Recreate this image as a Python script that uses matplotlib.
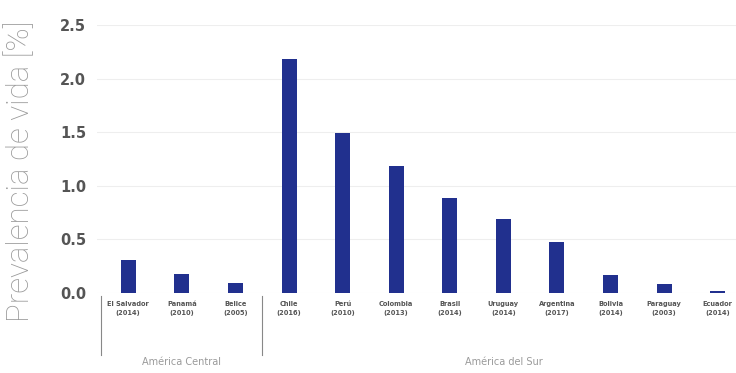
import matplotlib.pyplot as plt
import matplotlib.transforms as mtransforms

countries = ["El Salvador", "Panamá", "Belice", "Chile", "Perú", "Colombia",
             "Brasil", "Uruguay", "Argentina", "Bolivia", "Paraguay", "Ecuador"]
years = ["2014", "2010", "2005", "2016", "2010", "2013",
         "2014", "2014", "2017", "2014", "2003", "2014"]
prevalence = [0.31, 0.18, 0.09, 2.18, 1.49, 1.18, 0.89, 0.69, 0.48, 0.17, 0.08, 0.02]

regions = ["América Central", "América del Sur"]
region_sizes = [3, 9]

BAR_COLOR = "#21308e"

fig = plt.figure(figsize=(7.36, 3.73), dpi=100)
ax = fig.add_axes([0.132, 0.2145, 0.868, 0.7185])

x = list(range(len(countries)))
ax.bar(x, prevalence, width=0.28, color=BAR_COLOR, zorder=3)

ax.set_xlim(-0.58, 11.34)
ax.set_ylim(0, 2.5)
ax.set_yticks([0.0, 0.5, 1.0, 1.5, 2.0, 2.5])
ax.set_yticklabels([f"{v:.1f}" for v in ax.get_yticks()],
                   fontsize=10.5, fontweight="bold", color="#555555")
ax.yaxis.grid(True, color="#eeeeee", linewidth=0.8, zorder=0)
ax.tick_params(axis="y", length=0, pad=8)
ax.tick_params(axis="x", length=0, pad=6)
ax.set_xticks(x)
ax.set_xticklabels([f"{c}\n({y})" for c, y in zip(countries, years)],
                   fontsize=4.8, fontweight="bold", color="#555555", linespacing=1.6)
for side in ["top", "right", "left", "bottom"]:
    ax.spines[side].set_visible(False)

ax.set_ylabel("Prevalencia de vida [%]", fontsize=22.5, color="#9a9a9a",
              family="Roboto", fontweight="light")
ax.yaxis.set_label_coords(-0.097, 0.455)

# region brackets below the country labels
trans = mtransforms.blended_transform_factory(ax.transData, ax.transAxes)
start = -0.5
for name, n in zip(regions, region_sizes):
    ax.plot([start, start], [-0.012, -0.23], color="#888888", lw=0.8,
            transform=trans, clip_on=False)
    ax.text(start + n / 2, -0.258, name, transform=trans, ha="center", va="center",
            fontsize=7, color="#9a9a9a")
    start += n

fig.savefig("out.png", dpi=100)
